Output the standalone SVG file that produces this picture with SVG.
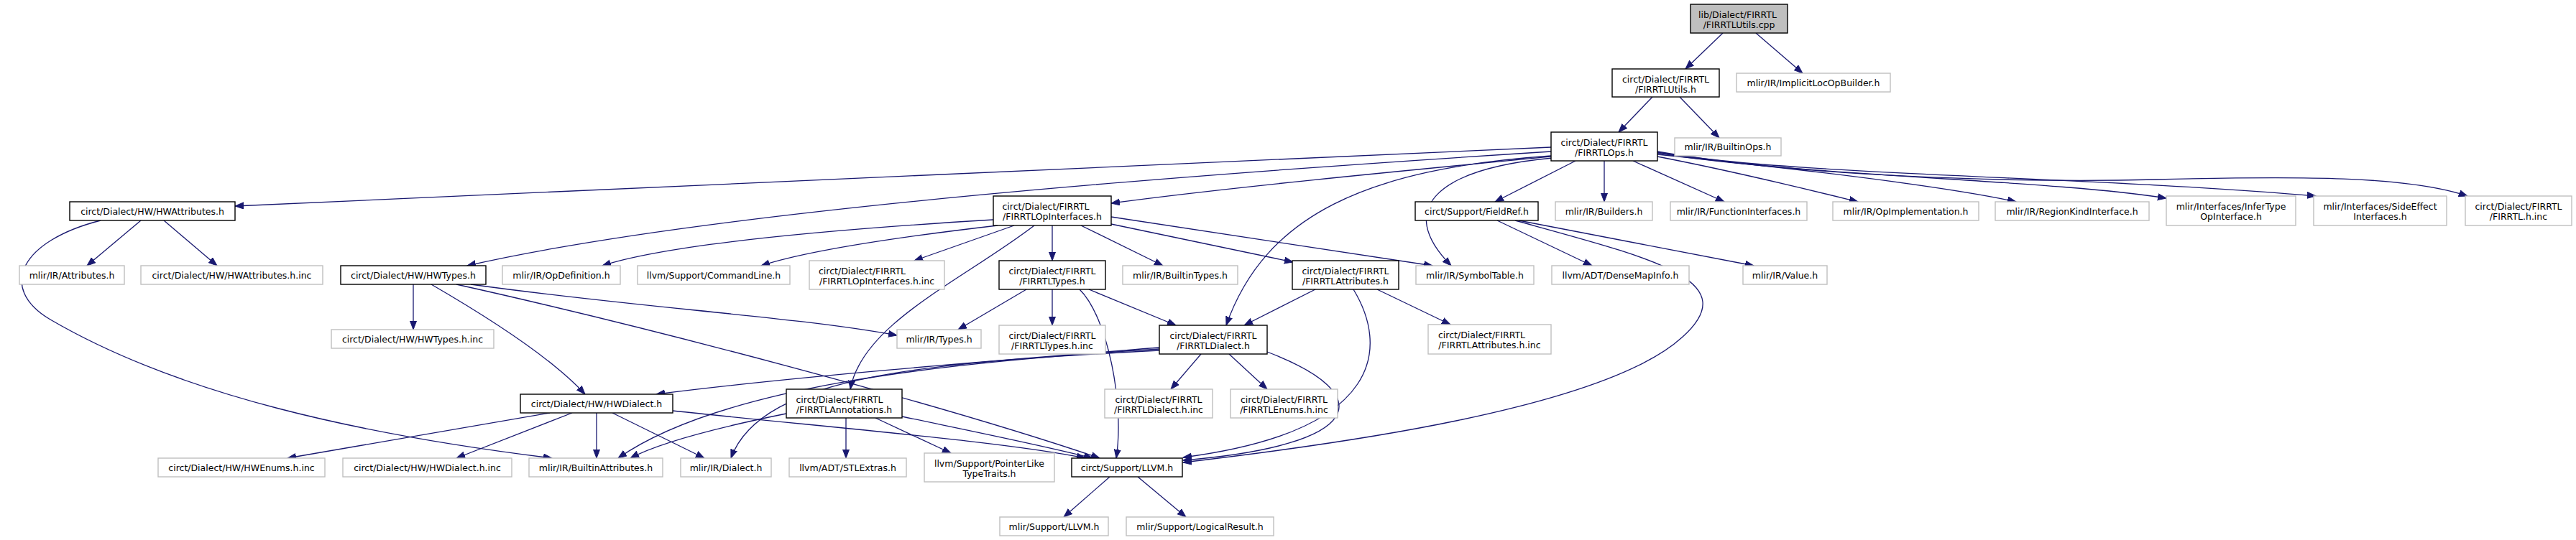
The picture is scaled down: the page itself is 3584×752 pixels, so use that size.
<svg xmlns="http://www.w3.org/2000/svg" width="3584" height="752" viewBox="0 0 3584 752">
<style>
.d rect{fill:#fff;stroke:#000;stroke-width:1.4}
.u rect{fill:#fff;stroke:#bfbfbf;stroke-width:1.4}
.r rect{fill:#bfbfbf;stroke:#000;stroke-width:1.4}
text{font-family:"DejaVu Sans","Liberation Sans",sans-serif;font-size:12.5px;fill:#000}
.m{text-anchor:middle}
.s{text-anchor:start}
#edges path{fill:none;stroke:#191970;stroke-width:1.3;marker-end:url(#a)}
</style>
<defs>
<marker id="a" markerUnits="userSpaceOnUse" markerWidth="14" markerHeight="12" refX="12" refY="5" orient="auto"><path d="M0,0.5 L12,5 L0,9.5 z" fill="#191970" stroke="#191970" stroke-width="1"/></marker>
</defs>
<rect width="3584" height="752" fill="#fff"/>
<g id="edges">
<path d="M2397,46 L2345,96"/>
<path d="M2443,46 L2508,102"/>
<path d="M2299,135 L2252,184"/>
<path d="M2337,135 L2392,192"/>
<path d="M2158,205 L327,287"/>
<path d="M2158,218 C1950,238 1700,262 1546,283"/>
<path d="M2158,211 C1700,240 1000,290 650,370"/>
<path d="M2192,224 L2080,281"/>
<path d="M2232,224 L2232,281"/>
<path d="M2272,224 L2399,281"/>
<path d="M2306,218 C2420,240 2520,265 2585,281"/>
<path d="M2306,215 C2500,235 2700,258 2805,281"/>
<path d="M2306,213 C2500,245 2850,250 3014,276"/>
<path d="M2306,212 C2500,245 2900,245 3222,273"/>
<path d="M2306,211 C2500,245 2800,255 3000,250 C3200,245 3350,245 3433,273"/>
<path d="M2160,220 C2000,235 1940,290 2019,370"/>
<path d="M2158,217 C1900,235 1760,300 1706,453"/>
<path d="M196,307 L121,370"/>
<path d="M228,307 L302,370"/>
<path d="M140,307 C30,335 -5,400 70,445 C250,550 500,605 768,638"/>
<path d="M1382,306 C1150,320 930,340 838,370"/>
<path d="M1388,314 C1250,330 1120,350 1059,370"/>
<path d="M1411,314 L1272,363"/>
<path d="M1439,314 C1340,390 1200,450 1183,542"/>
<path d="M1464,314 L1464,363"/>
<path d="M1504,314 L1618,370"/>
<path d="M1546,312 L1799,365"/>
<path d="M1546,302 L1993,370"/>
<path d="M575,396 L575,459"/>
<path d="M600,396 C650,425 760,490 814,549"/>
<path d="M655,396 C900,430 1100,440 1248,467"/>
<path d="M635,396 C900,455 1300,560 1530,638"/>
<path d="M765,575 L400,638"/>
<path d="M796,575 L635,638"/>
<path d="M830,575 L830,638"/>
<path d="M852,575 L980,638"/>
<path d="M936,572 C1150,595 1400,615 1510,638"/>
<path d="M1428,403 L1333,459"/>
<path d="M1464,403 L1464,453"/>
<path d="M1502,403 C1540,440 1565,560 1553,638"/>
<path d="M1515,403 L1636,453"/>
<path d="M1830,403 L1731,453"/>
<path d="M1883,403 C1930,480 1930,600 1646,637"/>
<path d="M1916,403 L2018,452"/>
<path d="M1613,484 C1350,505 1100,525 913,549"/>
<path d="M1613,486 C1300,505 1000,540 860,638"/>
<path d="M1613,488 C1300,505 1060,520 1017,638"/>
<path d="M1671,493 L1629,542"/>
<path d="M1710,493 L1763,542"/>
<path d="M1763,490 C1920,550 1900,620 1646,641"/>
<path d="M1094,576 C1000,595 920,615 877,638"/>
<path d="M1177,582 L1177,638"/>
<path d="M1218,582 L1323,631"/>
<path d="M1255,580 C1350,600 1450,620 1520,638"/>
<path d="M2083,307 L2215,370"/>
<path d="M2113,307 L2440,370"/>
<path d="M2108,307 C2300,360 2430,390 2340,470 C2230,570 1850,620 1646,644"/>
<path d="M1544,664 L1480,720"/>
<path d="M1583,664 L1650,720"/>
</g>
<g id="n0" class="r"><rect x="2352" y="6" width="135" height="40"/><text class="s" x="2363" y="25">lib/Dialect/FIRRTL</text><text class="m" x="2419.5" y="39">/FIRRTLUtils.cpp</text></g>
<g id="n1" class="d"><rect x="2243" y="96" width="149" height="39"/><text class="m" x="2317.5" y="115">circt/Dialect/FIRRTL</text><text class="m" x="2317.5" y="129">/FIRRTLUtils.h</text></g>
<g id="n2" class="u"><rect x="2416" y="102" width="214" height="26"/><text class="m" x="2523" y="119.5">mlir/IR/ImplicitLocOpBuilder.h</text></g>
<g id="n3" class="d"><rect x="2158" y="184" width="148" height="40"/><text class="m" x="2232" y="203">circt/Dialect/FIRRTL</text><text class="m" x="2232" y="217">/FIRRTLOps.h</text></g>
<g id="n4" class="u"><rect x="2330" y="192" width="148" height="25"/><text class="m" x="2404" y="209">mlir/IR/BuiltinOps.h</text></g>
<g id="n5" class="d"><rect x="97" y="281" width="230" height="26"/><text class="m" x="212" y="298.5">circt/Dialect/HW/HWAttributes.h</text></g>
<g id="n6" class="d"><rect x="1382" y="273" width="164" height="41"/><text class="s" x="1394.5" y="292">circt/Dialect/FIRRTL</text><text class="m" x="1464" y="306">/FIRRTLOpInterfaces.h</text></g>
<g id="n7" class="d"><rect x="1969" y="281" width="171" height="26"/><text class="m" x="2054.5" y="298.5">circt/Support/FieldRef.h</text></g>
<g id="n8" class="u"><rect x="2164" y="281" width="135" height="26"/><text class="m" x="2231.5" y="298.5">mlir/IR/Builders.h</text></g>
<g id="n9" class="u"><rect x="2324" y="281" width="190" height="26"/><text class="m" x="2419" y="298.5">mlir/IR/FunctionInterfaces.h</text></g>
<g id="n10" class="u"><rect x="2550" y="281" width="203" height="26"/><text class="m" x="2651.5" y="298.5">mlir/IR/OpImplementation.h</text></g>
<g id="n11" class="u"><rect x="2776" y="281" width="214" height="26"/><text class="m" x="2883" y="298.5">mlir/IR/RegionKindInterface.h</text></g>
<g id="n12" class="u"><rect x="3014" y="273" width="180" height="41"/><text class="m" x="3104" y="292">mlir/Interfaces/InferType</text><text class="m" x="3104" y="306">OpInterface.h</text></g>
<g id="n13" class="u"><rect x="3219" y="273" width="185" height="41"/><text class="m" x="3311.5" y="292">mlir/Interfaces/SideEffect</text><text class="m" x="3311.5" y="306">Interfaces.h</text></g>
<g id="n14" class="u"><rect x="3430" y="273" width="148" height="41"/><text class="m" x="3504" y="292">circt/Dialect/FIRRTL</text><text class="m" x="3504" y="306">/FIRRTL.h.inc</text></g>
<g id="n15" class="u"><rect x="27" y="370" width="146" height="26"/><text class="m" x="100" y="387.5">mlir/IR/Attributes.h</text></g>
<g id="n16" class="u"><rect x="196" y="370" width="253" height="26"/><text class="m" x="322.5" y="387.5">circt/Dialect/HW/HWAttributes.h.inc</text></g>
<g id="n17" class="d"><rect x="474" y="370" width="202" height="26"/><text class="m" x="575" y="387.5">circt/Dialect/HW/HWTypes.h</text></g>
<g id="n18" class="u"><rect x="699" y="370" width="164" height="26"/><text class="m" x="781" y="387.5">mlir/IR/OpDefinition.h</text></g>
<g id="n19" class="u"><rect x="887" y="370" width="212" height="26"/><text class="m" x="993" y="387.5">llvm/Support/CommandLine.h</text></g>
<g id="n20" class="u"><rect x="1126" y="363" width="188" height="40"/><text class="s" x="1139" y="382">circt/Dialect/FIRRTL</text><text class="m" x="1220" y="396">/FIRRTLOpInterfaces.h.inc</text></g>
<g id="n21" class="d"><rect x="1390" y="363" width="148" height="40"/><text class="m" x="1464" y="382">circt/Dialect/FIRRTL</text><text class="m" x="1464" y="396">/FIRRTLTypes.h</text></g>
<g id="n22" class="u"><rect x="1562" y="370" width="160" height="26"/><text class="m" x="1642" y="387.5">mlir/IR/BuiltinTypes.h</text></g>
<g id="n23" class="d"><rect x="1798" y="363" width="148" height="40"/><text class="m" x="1872" y="382">circt/Dialect/FIRRTL</text><text class="m" x="1872" y="396">/FIRRTLAttributes.h</text></g>
<g id="n24" class="u"><rect x="1970" y="370" width="164" height="26"/><text class="m" x="2052" y="387.5">mlir/IR/SymbolTable.h</text></g>
<g id="n25" class="u"><rect x="2159" y="370" width="191" height="26"/><text class="m" x="2254.5" y="387.5">llvm/ADT/DenseMapInfo.h</text></g>
<g id="n26" class="u"><rect x="2425" y="370" width="117" height="26"/><text class="m" x="2483.5" y="387.5">mlir/IR/Value.h</text></g>
<g id="n27" class="u"><rect x="461" y="459" width="226" height="26"/><text class="m" x="574" y="476.5">circt/Dialect/HW/HWTypes.h.inc</text></g>
<g id="n28" class="u"><rect x="1248" y="459" width="117" height="26"/><text class="m" x="1306.5" y="476.5">mlir/IR/Types.h</text></g>
<g id="n29" class="u"><rect x="1390" y="453" width="148" height="40"/><text class="m" x="1464" y="472">circt/Dialect/FIRRTL</text><text class="m" x="1464" y="486">/FIRRTLTypes.h.inc</text></g>
<g id="n30" class="d"><rect x="1613" y="453" width="150" height="40"/><text class="m" x="1688" y="472">circt/Dialect/FIRRTL</text><text class="m" x="1688" y="486">/FIRRTLDialect.h</text></g>
<g id="n31" class="u"><rect x="1987" y="452" width="171" height="41"/><text class="s" x="2001" y="471">circt/Dialect/FIRRTL</text><text class="m" x="2072.5" y="485">/FIRRTLAttributes.h.inc</text></g>
<g id="n32" class="d"><rect x="724" y="549" width="212" height="26"/><text class="m" x="830" y="566.5">circt/Dialect/HW/HWDialect.h</text></g>
<g id="n33" class="d"><rect x="1094" y="542" width="161" height="40"/><text class="s" x="1107.5" y="561">circt/Dialect/FIRRTL</text><text class="m" x="1174.5" y="575">/FIRRTLAnnotations.h</text></g>
<g id="n34" class="u"><rect x="1537" y="542" width="150" height="40"/><text class="m" x="1612" y="561">circt/Dialect/FIRRTL</text><text class="m" x="1612" y="575">/FIRRTLDialect.h.inc</text></g>
<g id="n35" class="u"><rect x="1712" y="542" width="149" height="40"/><text class="m" x="1786.5" y="561">circt/Dialect/FIRRTL</text><text class="m" x="1786.5" y="575">/FIRRTLEnums.h.inc</text></g>
<g id="n36" class="u"><rect x="220" y="638" width="232" height="26"/><text class="m" x="336" y="655.5">circt/Dialect/HW/HWEnums.h.inc</text></g>
<g id="n37" class="u"><rect x="477" y="638" width="235" height="26"/><text class="m" x="594.5" y="655.5">circt/Dialect/HW/HWDialect.h.inc</text></g>
<g id="n38" class="u"><rect x="736" y="638" width="186" height="26"/><text class="m" x="829" y="655.5">mlir/IR/BuiltinAttributes.h</text></g>
<g id="n39" class="u"><rect x="947" y="638" width="126" height="26"/><text class="m" x="1010" y="655.5">mlir/IR/Dialect.h</text></g>
<g id="n40" class="u"><rect x="1098" y="638" width="163" height="26"/><text class="m" x="1179.5" y="655.5">llvm/ADT/STLExtras.h</text></g>
<g id="n41" class="u"><rect x="1286" y="631" width="181" height="40"/><text class="m" x="1376.5" y="650">llvm/Support/PointerLike</text><text class="m" x="1376.5" y="664">TypeTraits.h</text></g>
<g id="n42" class="d"><rect x="1491" y="638" width="154" height="26"/><text class="m" x="1568" y="655.5">circt/Support/LLVM.h</text></g>
<g id="n43" class="u"><rect x="1391" y="720" width="151" height="26"/><text class="m" x="1466.5" y="737.5">mlir/Support/LLVM.h</text></g>
<g id="n44" class="u"><rect x="1567" y="720" width="205" height="26"/><text class="m" x="1669.5" y="737.5">mlir/Support/LogicalResult.h</text></g>
</svg>
